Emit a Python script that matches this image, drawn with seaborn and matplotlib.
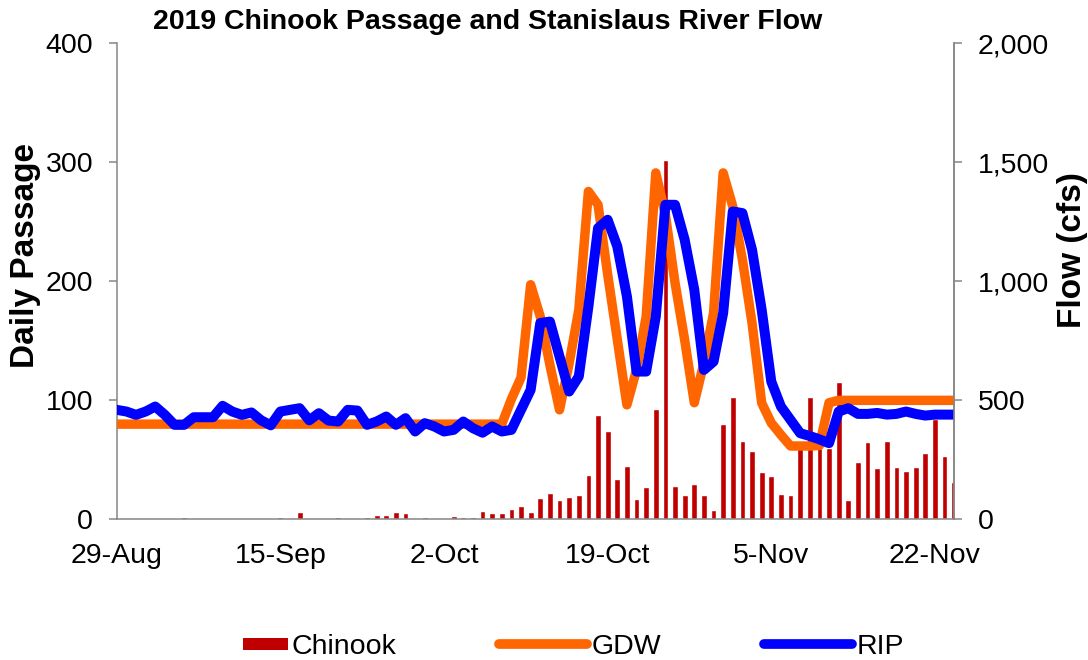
"""
2019 Chinook passage (bars) with Stanislaus River flow at GDW and RIP (lines)
"""
import matplotlib
matplotlib.use("Agg")
import matplotlib.pyplot as plt
from matplotlib.patches import Rectangle, Patch
from matplotlib.lines import Line2D
from matplotlib.legend_handler import HandlerPatch
from matplotlib.ticker import FuncFormatter
import seaborn as sns
import pandas as pd

# one entry per day, 29-Aug through 24-Nov
dates = pd.date_range("2019-08-29", "2019-11-24", freq="D")

chinook = [0, 1, 0, 0, 0, 0, 0, 2, 0, 1,
           0, 0, 0, 0, 0, 0, 0, 2, 0, 6,
           0, 1, 0, 2, 1, 1, 2, 4, 4, 6,
           5, 1, 2, 0, 1, 3, 2, 2, 7, 5,
           5, 9, 11, 6, 18, 22, 16, 19, 20, 37,
           88, 74, 34, 45, 17, 27, 93, 302, 28, 20,
           30, 20, 8, 80, 103, 66, 57, 40, 36, 21,
           20, 65, 103, 60, 60, 115, 16, 48, 65, 43,
           66, 44, 41, 44, 56, 84, 53, 31]

gdw = [400, 400, 400, 400, 400, 400, 400, 400, 400, 400,
       400, 400, 400, 400, 400, 400, 400, 400, 400, 400,
       400, 400, 400, 400, 400, 400, 400, 400, 400, 400,
       400, 400, 400, 400, 400, 400, 400, 400, 400, 400,
       400, 505, 596, 986, 852, 649, 460, 656, 880, 1378,
       1322, 1030, 756, 481, 628, 852, 1456, 1280, 994, 754,
       490, 657, 867, 1456, 1315, 1091, 825, 489, 405, 355,
       308, 308, 308, 310, 490, 500, 500, 500, 500, 500,
       500, 500, 500, 500, 500, 500, 500, 500]

rip = [460, 453, 439, 453, 474, 439, 397, 397, 429, 429,
       429, 477, 453, 439, 449, 416, 395, 453, 460, 467,
       416, 446, 415, 411, 460, 457, 397, 411, 432, 397,
       425, 369, 404, 390, 369, 376, 411, 383, 364, 390,
       369, 376, 460, 544, 825, 831, 684, 537, 600, 894,
       1224, 1259, 1147, 937, 621, 621, 852, 1322, 1322, 1175,
       965, 628, 663, 867, 1294, 1287, 1133, 881, 579, 474,
       418, 362, 350, 336, 320, 453, 467, 443, 443, 447,
       440, 443, 453, 443, 436, 440, 440, 440]

tick_days = [0, 17, 34, 51, 68, 85]

sns.set_theme(style="white")
plt.rcParams['font.family'] = ['Liberation Sans', 'DejaVu Sans']
plt.rcParams['text.color'] = 'black'
plt.rcParams['axes.labelcolor'] = 'black'

BAR_RED = "#C00000"
GDW_ORANGE = "#FF6600"
RIP_BLUE = "#0000FF"
SPINE_GREY = "#868686"

df = pd.DataFrame({
    "day": range(len(dates)),
    "Chinook": chinook,
    "GDW": gdw,
    "RIP": rip,
})

fig = plt.figure(figsize=(10.88, 6.6), dpi=100)
ax = fig.add_axes([0.1073, 0.2132, 0.7697, 0.7209])

sns.barplot(data=df, x="day", y="Chinook", color=BAR_RED, width=0.6,
            saturation=1, ax=ax)

ax2 = ax.twinx()
sns.lineplot(data=df, x="day", y="GDW", color=GDW_ORANGE, linewidth=6.8, ax=ax2)
sns.lineplot(data=df, x="day", y="RIP", color=RIP_BLUE, linewidth=7.2, ax=ax2)

ax.set_xlim(0, len(dates) - 1)
ax.set_ylim(0, 400)
ax2.set_ylim(0, 2000)
ax.set_yticks([0, 100, 200, 300, 400])
ax2.set_yticks([0, 500, 1000, 1500, 2000])
ax2.yaxis.set_major_formatter(FuncFormatter(lambda v, p: "{:,.0f}".format(v)))

ax.set_xticks(tick_days)
ax.set_xticklabels([dates[d].strftime("%-d-%b") for d in tick_days])

for a in (ax, ax2):
    a.set_xlabel("")
    a.spines['top'].set_visible(False)
    for s in ('left', 'right', 'bottom'):
        a.spines[s].set_color(SPINE_GREY)
        a.spines[s].set_linewidth(1.1)
    a.tick_params(axis='both', which='major', direction='out', length=6,
                  width=1.1, color=SPINE_GREY, labelsize=20.5,
                  labelcolor='black', pad=11)
    a.grid(False)
ax2.spines['left'].set_visible(False)
ax2.spines['bottom'].set_visible(False)

ax.set_ylabel("Daily Passage", fontsize=24, fontweight='bold')
ax2.set_ylabel("Flow (cfs)", fontsize=24, fontweight='bold')
# Excel sits both axis titles a little above the middle of the plot
ax.yaxis.set_label_coords(-0.091, 0.555)
ax2.yaxis.set_label_coords(1.123, 0.566)

fig.text(0.448, 0.967, "2019 Chinook Passage and Stanislaus River Flow",
         ha='center', va='center', fontsize=20.5, fontweight='bold')


def narrow_rect(legend, orig_handle, xdescent, ydescent, width, height, fontsize):
    # Excel draws the bar swatch shorter than the line swatches
    return Rectangle((width * 0.5 - xdescent, height * 0.2 - ydescent),
                     width * 0.5, height * 0.6)


handles = [
    Patch(facecolor=BAR_RED, edgecolor='none'),
    Line2D([0], [0], color=GDW_ORANGE, linewidth=7, solid_capstyle='round'),
    Line2D([0], [0], color=RIP_BLUE, linewidth=7, solid_capstyle='round'),
]
fig.legend(handles, ["Chinook", "GDW", "RIP"], loc='center',
           bbox_to_anchor=(0.507, 0.02), ncol=3, frameon=False,
           fontsize=20.5, handlelength=3.1, handletextpad=0.15,
           columnspacing=3.6, borderpad=0,
           handler_map={Patch: HandlerPatch(patch_func=narrow_rect)})

plt.savefig("out.png", dpi=100)
plt.close()
